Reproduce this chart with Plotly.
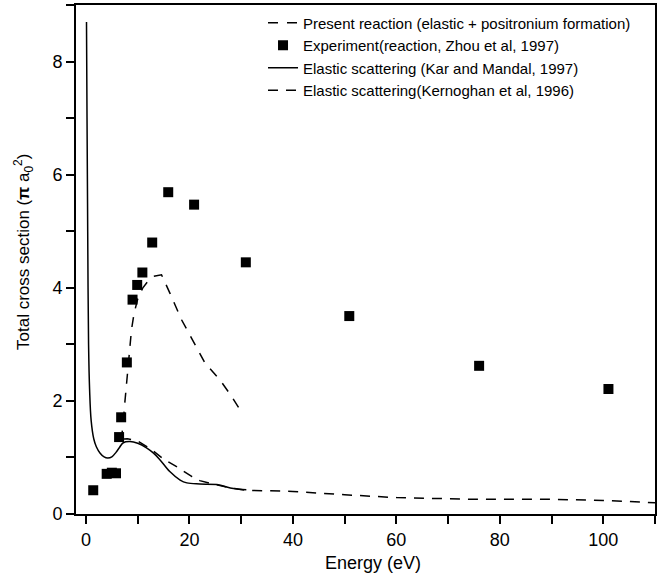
import plotly.graph_objects as go

# Experiment (reaction, Zhou et al, 1997)
exp_energy = [1.4, 4.0, 5.0, 5.8, 6.4, 6.8, 7.9, 9.0, 9.9, 10.9, 12.8, 15.9, 20.9, 30.9, 50.9, 76.0, 101.0]
exp_cs = [0.42, 0.71, 0.73, 0.72, 1.36, 1.71, 2.68, 3.79, 4.05, 4.27, 4.80, 5.69, 5.47, 4.45, 3.50, 2.62, 2.21]

# Present reaction (elastic + positronium formation)
present_energy = [6.8, 7.2, 7.5, 8.0, 8.8, 9.3, 10.0, 11.0, 12.0, 13.0, 14.6, 16.2, 18.5, 20.4, 23.0, 25.9, 28.0, 29.8]
present_cs = [1.30, 1.60, 1.96, 2.49, 3.26, 3.55, 3.80, 4.00, 4.12, 4.20, 4.23, 3.91, 3.43, 3.11, 2.67, 2.37, 2.10, 1.84]

# Elastic scattering (Kar and Mandal, 1997)
kar_energy = [0.1, 0.2, 0.3, 0.4, 0.5, 0.7, 1.0, 1.5, 2.0, 2.7, 3.5, 4.2, 5.0, 5.8, 6.5, 7.2, 8.5, 10.0, 11.7, 13.0, 14.2, 16.2, 18.2, 19.5, 22.0, 25.3, 28.5, 31.0]
kar_cs = [8.70, 7.00, 5.50, 4.00, 3.00, 2.20, 1.65, 1.33, 1.19, 1.08, 1.01, 0.99, 1.01, 1.09, 1.18, 1.26, 1.28, 1.25, 1.17, 1.08, 0.97, 0.75, 0.60, 0.55, 0.53, 0.52, 0.45, 0.43]

# Elastic scattering (Kernoghan et al, 1996)
ker_energy = [6.8, 8.0, 10.0, 12.5, 15.0, 18.0, 20.5, 22.0, 25.0, 28.0, 31.0, 37.5, 40.0, 50.0, 60.0, 75.0, 90.0, 100.0, 110.0]
ker_cs = [1.32, 1.33, 1.29, 1.15, 0.97, 0.81, 0.66, 0.59, 0.52, 0.46, 0.42, 0.41, 0.40, 0.34, 0.29, 0.26, 0.26, 0.24, 0.20]

x_title = "Energy (eV)"
y_title = "Total cross section (<b>π</b> a<sub>0</sub><sup>2</sup>)"

FONT = "Liberation Sans, Arial, Helvetica, sans-serif"

fig = go.Figure()
fig.add_trace(go.Scatter(x=present_energy, y=present_cs, mode="lines",
                         name="Present reaction (elastic + positronium formation)",
                         line=dict(color="black", width=1.5, dash="10px,9px")))
fig.add_trace(go.Scatter(x=exp_energy, y=exp_cs, mode="markers",
                         name="Experiment(reaction, Zhou et al, 1997)",
                         marker=dict(symbol="square", size=10, color="black")))
fig.add_trace(go.Scatter(x=kar_energy, y=kar_cs, mode="lines", line_shape="spline",
                         name="Elastic scattering (Kar and Mandal, 1997)",
                         line=dict(color="black", width=1.5)))
fig.add_trace(go.Scatter(x=ker_energy, y=ker_cs, mode="lines",
                         name="Elastic scattering(Kernoghan et al, 1996)",
                         line=dict(color="black", width=1.5, dash="10px,8px")))

fig.update_layout(
    template="none",
    width=670, height=576,
    margin=dict(l=76, r=15, t=5, b=62, autoexpand=False),
    paper_bgcolor="white", plot_bgcolor="white",
    showlegend=True,
    legend=dict(x=0.323, y=0.997, xanchor="left", yanchor="top",
                bgcolor="rgba(0,0,0,0)", borderwidth=0,
                font=dict(family=FONT, size=15, color="black")),
    font=dict(family=FONT, color="black"),
    annotations=[
        dict(text=x_title, xref="paper", yref="paper", x=(373 - 76) / 579, y=-(563 - 514) / 509,
             xanchor="center", yanchor="middle", showarrow=False,
             font=dict(family=FONT, size=18, color="black")),
        dict(text=y_title, xref="paper", yref="paper", x=-(76 - 24) / 579, y=(514 - 252) / 509,
             xanchor="center", yanchor="middle", showarrow=False, textangle=-90,
             font=dict(family=FONT, size=17, color="black")),
    ],
)
fig.update_xaxes(
    automargin=False,
    range=[-1.93, 110], tickmode="linear", tick0=0, dtick=20,
    ticks="outside", ticklen=8, tickwidth=1.5, tickcolor="black",
    minor=dict(dtick=10, tick0=0, ticks="outside", ticklen=8, tickwidth=1.5, tickcolor="black"),
    showline=True, linewidth=2, linecolor="black", mirror=True,
    showgrid=False, zeroline=False,
    tickfont=dict(family=FONT, size=18, color="black"),
)
fig.update_yaxes(
    automargin=False,
    range=[0, 9.0], tickmode="linear", tick0=0, dtick=2,
    ticks="outside", ticklen=8, tickwidth=1.5, tickcolor="black",
    minor=dict(dtick=1, tick0=0, ticks="outside", ticklen=8, tickwidth=1.5, tickcolor="black"),
    showline=True, linewidth=2, linecolor="black", mirror=True,
    showgrid=False, zeroline=False,
    tickfont=dict(family=FONT, size=18, color="black"),
)

fig.write_html("out.html", config={"displayModeBar": False},
               post_script="document.body.style.margin='0px';")
